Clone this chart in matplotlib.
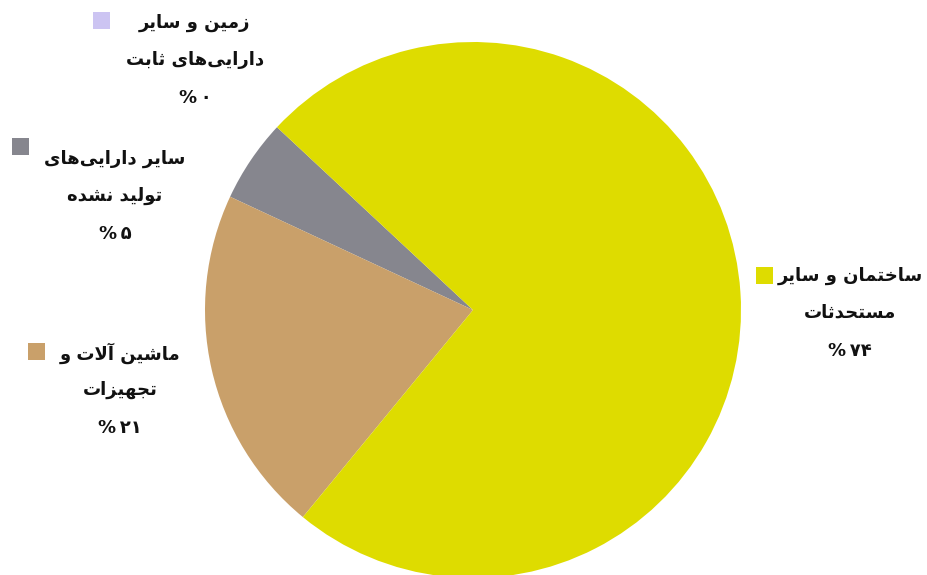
import matplotlib
matplotlib.use("Agg")
import matplotlib.pyplot as plt
from matplotlib.patches import Rectangle

# shares of fixed capital (percent)
labels = ["زمین و سایر\nدارایی‌های ثابت",
          "سایر دارایی‌های\nتولید نشده",
          "ماشین آلات و\nتجهیزات",
          "ساختمان و سایر\nمستحدثات"]
values = [0, 5, 21, 74]
pct_text = ["۰", "۵", "۲۱", "۷۴"]
colors = ["#CCC4F2", "#86868E", "#C9A06A", "#DEDC00"]

# --- minimal Persian shaping (matplotlib has no text shaping) ---
FORMS = {
    'ا': (0xFE8D, 0xFE8E), 'آ': (0xFE81, 0xFE82),
    'ب': (0xFE8F, 0xFE90, 0xFE91, 0xFE92), 'ت': (0xFE95, 0xFE96, 0xFE97, 0xFE98),
    'ث': (0xFE99, 0xFE9A, 0xFE9B, 0xFE9C), 'ج': (0xFE9D, 0xFE9E, 0xFE9F, 0xFEA0),
    'ح': (0xFEA1, 0xFEA2, 0xFEA3, 0xFEA4), 'خ': (0xFEA5, 0xFEA6, 0xFEA7, 0xFEA8),
    'د': (0xFEA9, 0xFEAA), 'ر': (0xFEAD, 0xFEAE), 'ز': (0xFEAF, 0xFEB0),
    'س': (0xFEB1, 0xFEB2, 0xFEB3, 0xFEB4), 'ش': (0xFEB5, 0xFEB6, 0xFEB7, 0xFEB8),
    'ل': (0xFEDD, 0xFEDE, 0xFEDF, 0xFEE0), 'م': (0xFEE1, 0xFEE2, 0xFEE3, 0xFEE4),
    'ن': (0xFEE5, 0xFEE6, 0xFEE7, 0xFEE8), 'ه': (0xFEE9, 0xFEEA, 0xFEEB, 0xFEEC),
    'و': (0xFEED, 0xFEEE), 'ی': (0xFBFC, 0xFBFD, 0xFBFE, 0xFBFF),
}
LAMALEF = {'ا': (0xFEFB, 0xFEFC), 'آ': (0xFEF5, 0xFEF6)}


def shape(s):
    out = []
    i = 0
    n = len(s)
    def dual(c):
        return c in FORMS and len(FORMS[c]) == 4
    while i < n:
        c = s[i]
        if c not in FORMS:
            if c != '\u200c':
                out.append(c)
            i += 1
            continue
        prev = s[i - 1] if i > 0 else ''
        joins_prev = dual(prev)
        if c == 'ل' and i + 1 < n and s[i + 1] in LAMALEF:
            f = LAMALEF[s[i + 1]]
            out.append(chr(f[1] if joins_prev else f[0]))
            i += 2
            continue
        nxt = s[i + 1] if i + 1 < n else ''
        joins_next = dual(c) and nxt in FORMS
        f = FORMS[c]
        if joins_prev and joins_next:
            g = f[3]
        elif joins_prev:
            g = f[1]
        elif joins_next:
            g = f[2]
        else:
            g = f[0]
        out.append(chr(g))
        i += 1
    return "".join(out)[::-1]


def rtl(text):
    return "\n".join(shape(line) for line in text.split("\n"))


W, H = 928, 575
fig = plt.figure(figsize=(W / 100, H / 100), dpi=100)
ax = fig.add_axes([0, 0, 1, 1])

ax.pie(values, colors=colors, startangle=137, counterclock=True,
       center=(473, H - 310), radius=268, frame=True,
       wedgeprops=dict(linewidth=0))
ax.set_xlim(0, W)
ax.set_ylim(0, H)
ax.set_aspect("equal")
ax.axis("off")

# label blocks: (text centre x, first-line y, square x, square y) in pixels
blocks = [(195, 23, 93, 12), (115, 159, 12, 138), (120, 353, 28, 343), (850, 276, 756, 267)]
font = dict(family=["DejaVu Sans"], fontsize=13, fontweight="bold", color="#111111")
for lab, pct, col, (cx, y0, sx, sy) in zip(labels, pct_text, colors, blocks):
    lines = rtl(lab).split("\n")
    for k, ln in enumerate(lines):
        ax.text(cx, H - (y0 + 37 * k), ln, ha="center", va="center", **font)
    ax.text(cx, H - (y0 + 37 * 2 + 1), "%\u2009" + pct, ha="center", va="center", **font)
    ax.add_patch(Rectangle((sx, H - sy - 17), 17, 17, color=col, lw=0))

fig.savefig("out.png", dpi=100)
